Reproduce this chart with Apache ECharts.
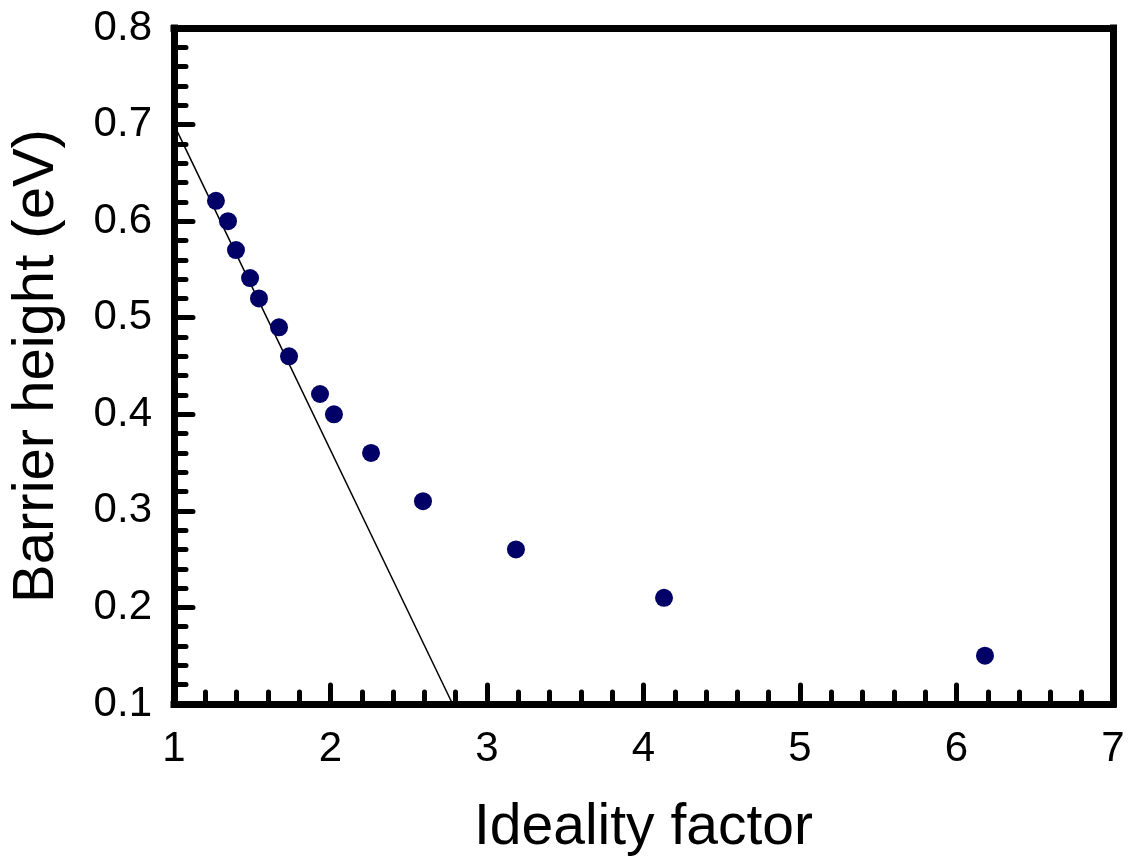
<!DOCTYPE html>
<html>
<head>
<meta charset="utf-8">
<script src="https://cdn.jsdelivr.net/npm/echarts@6/dist/echarts.min.js"></script>
<style>
html,body{margin:0;padding:0;background:#fff;}
#chart{width:1131px;height:866px;}
</style>
</head>
<body>
<div id="chart"></div>
<script>
const idealityFactor = [1.268, 1.345, 1.396, 1.486, 1.543, 1.671, 1.735, 1.933, 2.022, 2.259, 2.591, 3.185, 4.131, 6.182];
const barrierHeight = [0.621, 0.600, 0.570, 0.541, 0.520, 0.490, 0.460, 0.421, 0.400, 0.360, 0.310, 0.260, 0.210, 0.150];
const fitX = [1.0, 2.78];
const fitY = [0.70, 0.10];

const chart = echarts.init(document.getElementById('chart'));
const font = 'Liberation Sans, Arial, sans-serif';
const frameLine = {show: true, lineStyle: {color: '#000', width: 7, cap: 'square'}};

chart.setOption({
  animation: false,
  backgroundColor: '#fff',
  grid: {left: 174, right: 18, top: 28, bottom: 162, containLabel: false},
  xAxis: [{
    type: 'value', min: 1, max: 7, interval: 1,
    name: 'Ideality factor', nameLocation: 'middle', nameGap: 96,
    nameTextStyle: {fontFamily: font, fontSize: 57, color: '#000'},
    axisLine: frameLine,
    axisTick: {show: true, inside: true, length: 19, lineStyle: {color: '#000', width: 5, cap: 'round'}},
    minorTick: {show: true, splitNumber: 5, length: 12, lineStyle: {color: '#000', width: 5, cap: 'round'}},
    axisLabel: {fontFamily: font, fontSize: 42, color: '#000', margin: 24},
    splitLine: {show: false}
  }, {
    type: 'value', min: 1, max: 7, position: 'top',
    axisLine: frameLine, axisTick: {show: false}, axisLabel: {show: false}, splitLine: {show: false}
  }],
  yAxis: [{
    type: 'value', min: 0.1, max: 0.8, interval: 0.1,
    name: 'Barrier height (eV)', nameLocation: 'middle', nameGap: 108,
    nameTextStyle: {fontFamily: font, fontSize: 58, color: '#000'},
    axisLine: frameLine,
    axisTick: {show: true, inside: true, length: 19, lineStyle: {color: '#000', width: 5, cap: 'round'}},
    minorTick: {show: true, splitNumber: 5, length: 12, lineStyle: {color: '#000', width: 5, cap: 'round'}},
    axisLabel: {fontFamily: font, fontSize: 42, color: '#000', margin: 22,
      formatter: v => v.toFixed(1)},
    splitLine: {show: false}
  }, {
    type: 'value', min: 0.1, max: 0.8, position: 'right',
    axisLine: frameLine, axisTick: {show: false}, axisLabel: {show: false}, splitLine: {show: false}
  }],
  series: [{
    type: 'line',
    data: fitX.map((x, i) => [x, fitY[i]]),
    showSymbol: false, symbol: 'none',
    lineStyle: {color: '#000', width: 1.5},
    z: 2
  }, {
    type: 'scatter',
    data: idealityFactor.map((x, i) => [x, barrierHeight[i]]),
    symbol: 'circle', symbolSize: 18,
    itemStyle: {color: '#000066', opacity: 1},
    z: 3
  }]
});
</script>
</body>
</html>
